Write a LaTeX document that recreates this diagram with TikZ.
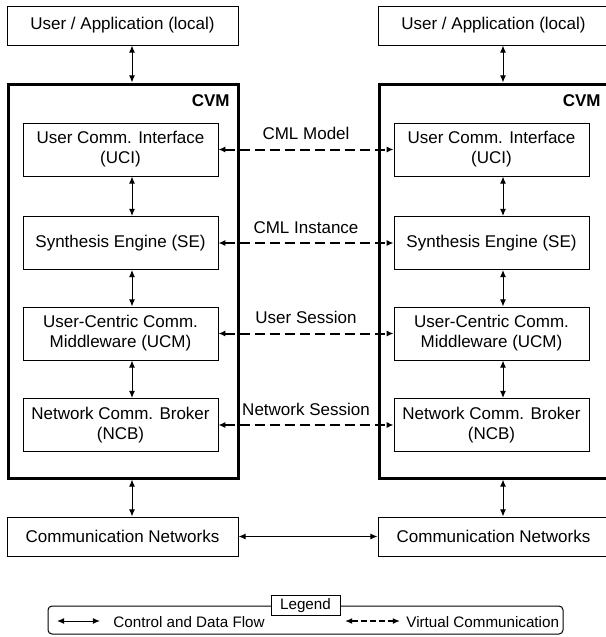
\documentclass[tikz,border=0pt]{standalone}
\usepackage{fontspec}
\setmainfont{Liberation Sans}
\usetikzlibrary{arrows.meta}
\begin{document}
\begin{tikzpicture}[x=0.5pt,y=-0.5pt,
  every node/.style={font=\fontsize{8.5}{10}\selectfont, inner sep=0pt},
  endbox/.style={draw, line width=0.5pt, minimum width=115.5pt, minimum height=19.5pt},
  comp/.style={draw, line width=0.5pt, minimum width=97.5pt, minimum height=26.5pt, align=center},
  cvmbox/.style={draw, line width=1.5pt, minimum width=115pt, minimum height=197pt},
  flow/.style={{Latex[length=3.6pt,width=3pt]}-{Latex[length=3.6pt,width=3pt]}, line width=0.5pt},
  virtual/.style={{Latex[length=3.4pt,width=3pt]}-{Latex[length=3.4pt,width=3pt]}, line width=1pt, dash pattern=on 5pt off 2.5pt},
  caption/.style={anchor=base, yshift=5pt},
  legendtext/.style={font=\fontsize{7.6}{9}\selectfont, anchor=west}
]
\useasboundingbox (0,0) rectangle (605,637);

% left stack
\node[endbox] (uaL) at (122.5,25.5) {User / Application (local)};
\node[cvmbox] (cvmL) at (123,281) {};
\node[anchor=east, font=\bfseries\fontsize{8.5}{10}\selectfont] (cvmLlab) at (230,101) {CVM};
\node[comp] (uciL) at (120.5,149.5) {User Comm. Interface\\(UCI)};
\node[comp] (seL)  at (120.5,243) {Synthesis Engine (SE)};
\node[comp] (ucmL) at (120.5,333.5) {User-Centric Comm.\\Middleware (UCM)};
\node[comp] (ncbL) at (120.5,425) {Network Comm. Broker\\(NCB)};
\node[endbox] (cnL) at (122.5,536.5) {Communication Networks};

% right stack
\node[endbox] (uaR) at (493.5,25.5) {User / Application (local)};
\node[cvmbox] (cvmR) at (494,281) {};
\node[anchor=east, font=\bfseries\fontsize{8.5}{10}\selectfont] (cvmRlab) at (601,101) {CVM};
\node[comp] (uciR) at (491.5,149.5) {User Comm. Interface\\(UCI)};
\node[comp] (seR)  at (491.5,243) {Synthesis Engine (SE)};
\node[comp] (ucmR) at (491.5,333.5) {User-Centric Comm.\\Middleware (UCM)};
\node[comp] (ncbR) at (491.5,425) {Network Comm. Broker\\(NCB)};
\node[endbox] (cnR) at (493.5,536.5) {Communication Networks};

% vertical control / data flow
\coordinate (axL) at (132,0);
\coordinate (axR) at (503,0);
\foreach \s in {L,R}{
  \draw[flow] (ax\s |- ua\s.south) -- (ax\s |- cvm\s.north);
  \draw[flow] (ax\s |- uci\s.south) -- (ax\s |- se\s.north);
  \draw[flow] (ax\s |- se\s.south) -- (ax\s |- ucm\s.north);
  \draw[flow] (ax\s |- ucm\s.south) -- (ax\s |- ncb\s.north);
  \draw[flow] (ax\s |- cvm\s.south) -- (ax\s |- cn\s.north);
}

% virtual communication between peers
\draw[virtual] (uciL.east) -- node[caption] {CML Model} (uciR.west);
\draw[virtual] (seL.east) -- node[caption] {CML Instance} (seR.west);
\draw[virtual] (ucmL.east) -- node[caption] {User Session} (ucmR.west);
\draw[virtual] (ncbL.east) -- node[caption] {Network Session} (ncbR.west);

% physical network link
\draw[flow] (cnL.east) -- (cnR.west);

% legend
\node[draw, line width=0.5pt, rounded corners=2pt, minimum width=257.5pt, minimum height=14pt] (legend) at (305.5,620) {};
\node[draw, fill=white, line width=0.5pt, minimum width=34.5pt, minimum height=10pt, font=\fontsize{7.6}{9}\selectfont] (legendtitle) at (legend.north) {Legend};
\coordinate (lfA) at (57,621);
\coordinate (lfB) at (100,621);
\draw[flow] (lfA) -- (lfB);
\node[legendtext] (lfText) at (113,622) {Control and Data Flow};
\coordinate (lvA) at (345,621);
\coordinate (lvB) at (400,621);
\draw[flow, line width=0.7pt, dash pattern=on 3pt off 1.5pt] (lvA) -- (lvB);
\node[legendtext] (lvText) at (406,622) {Virtual Communication};
\end{tikzpicture}
\end{document}
